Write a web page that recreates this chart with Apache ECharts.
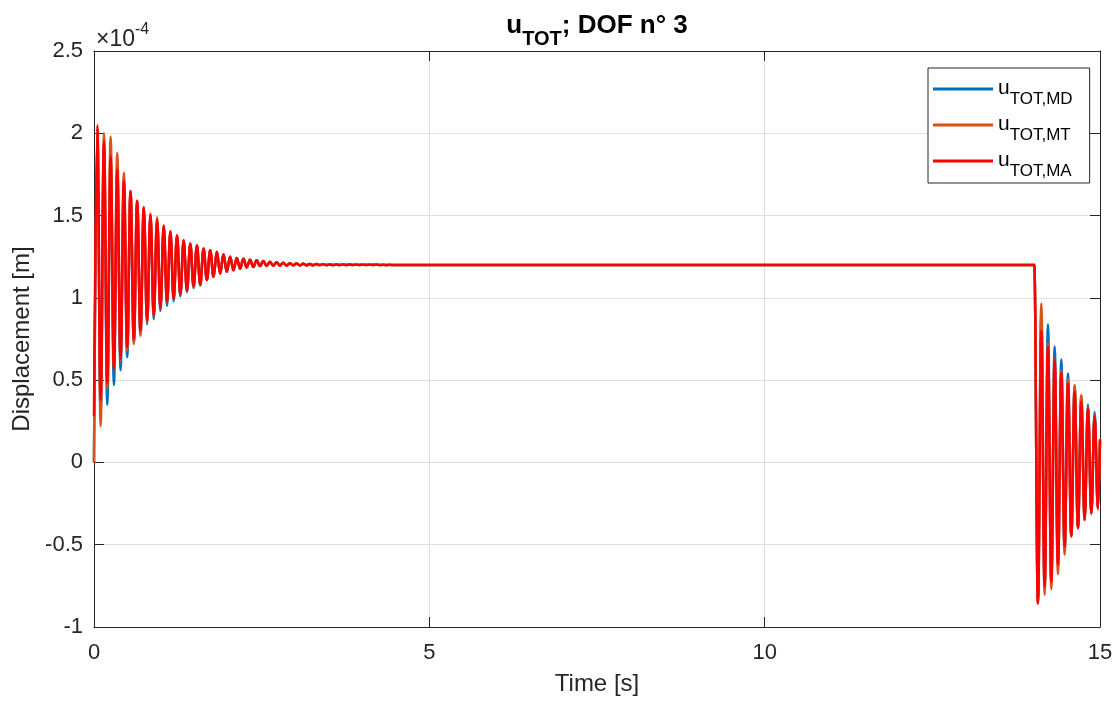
<!DOCTYPE html>
<html><head><meta charset="utf-8">
<script src="https://cdn.jsdelivr.net/npm/echarts@6/dist/echarts.min.js"></script>
<style>html,body{margin:0;padding:0;background:#fff}#c{width:1120px;height:703px}</style>
</head><body><div id="c"></div>
<script>
// All displacement values are in units of 1e-4 m (axis shows x10^-4)
const seriesNames = ['MD', 'MT', 'MA'];
const seriesColors = ['#0072BD', '#D95319', '#FF0000'];

// Early free-vibration extrema (alternating trough/peak), half-period spacing
const halfPeriodEarly = 0.0495;
const maEarly = [0.28, 2.05, 0.38, 1.95, 0.48, 1.86, 0.57, 1.78, 0.63, 1.71,
  0.70, 1.65, 0.75, 1.59, 0.80, 1.55, 0.86, 1.51, 0.895, 1.475,
  0.935, 1.44, 0.975, 1.405, 0.995, 1.38, 1.02, 1.35, 1.045, 1.33,
  1.07, 1.32, 1.08, 1.30, 1.108, 1.29, 1.128, 1.28, 1.148, 1.265,
  1.158, 1.25, 1.168, 1.242, 1.178, 1.237, 1.185, 1.232, 1.188, 1.228,
  1.193, 1.224, 1.194, 1.22, 1.195, 1.217, 1.195, 1.214, 1.196, 1.211,
  1.197, 1.209, 1.197, 1.207, 1.198, 1.206, 1.198, 1.205, 1.199, 1.204,
  1.199, 1.203, 1.199, 1.203, 1.2, 1.202, 1.2, 1.202, 1.2, 1.201,
  1.2, 1.201, 1.2, 1.201, 1.2, 1.201, 1.2, 1.2005, 1.2, 1.2005, 1.2];
const mtEarly = [0.0, 2.03, 0.22, 2.00, 0.45, 1.98, 0.57, 1.88, 0.62, 1.76,
  0.68, 1.65, 0.72, 1.59, 0.77, 1.55, 0.85, 1.51, 0.89, 1.49,
  0.935, 1.44, 0.975, 1.405, 0.995, 1.38, 1.02, 1.35, 1.045, 1.33,
  1.07, 1.32, 1.08, 1.30, 1.108, 1.29, 1.128, 1.28, 1.148, 1.265,
  1.158, 1.25, 1.168, 1.242, 1.178, 1.237, 1.185, 1.232, 1.188, 1.228,
  1.193, 1.224, 1.194, 1.22, 1.195, 1.217, 1.195, 1.214, 1.196, 1.211,
  1.197, 1.209, 1.197, 1.207, 1.198, 1.206, 1.198, 1.205, 1.199, 1.204,
  1.199, 1.203, 1.199, 1.203, 1.2, 1.202, 1.2, 1.202, 1.2, 1.201,
  1.2, 1.201, 1.2, 1.201, 1.2, 1.201, 1.2, 1.2005, 1.2, 1.2005, 1.2];
const mdEarly = [0.0, 2.00, 0.30, 1.93, 0.35, 1.85, 0.47, 1.76, 0.56, 1.70,
  0.64, 1.63, 0.73, 1.58, 0.78, 1.54, 0.84, 1.50, 0.87, 1.47,
  0.92, 1.43, 0.95, 1.40, 0.98, 1.375, 1.01, 1.345, 1.035, 1.325,
  1.06, 1.315, 1.075, 1.30, 1.108, 1.29, 1.128, 1.28, 1.148, 1.265,
  1.158, 1.25, 1.168, 1.242, 1.178, 1.237, 1.185, 1.232, 1.188, 1.228,
  1.193, 1.224, 1.194, 1.22, 1.195, 1.217, 1.195, 1.214, 1.196, 1.211,
  1.197, 1.209, 1.197, 1.207, 1.198, 1.206, 1.198, 1.205, 1.199, 1.204,
  1.199, 1.203, 1.199, 1.203, 1.2, 1.202, 1.2, 1.202, 1.2, 1.201,
  1.2, 1.201, 1.2, 1.201, 1.2, 1.201, 1.2, 1.2005, 1.2, 1.2005, 1.2];

// Static plateau
const plateauValue = 1.2;
const plateauEnd = 14.02;

// Late vibration after load removal (alternating trough/peak)
const lateStart = 14.075;
const halfPeriodLate = 0.0497;
const maLate = [-0.857, 0.80, -0.755, 0.705, -0.725, 0.625, -0.62, 0.545, -0.51, 0.48,
  -0.447, 0.43, -0.397, 0.37, -0.347, 0.33, -0.31, 0.28, -0.28];
const mtLate = [-0.857, 0.965, -0.805, 0.725, -0.77, 0.63, -0.68, 0.56, -0.56, 0.505,
  -0.45, 0.47, -0.40, 0.41, -0.35, 0.335, -0.31, 0.29, -0.285];
const mdLate = [-0.845, 0.90, -0.76, 0.84, -0.73, 0.705, -0.64, 0.625, -0.53, 0.54,
  -0.45, 0.46, -0.40, 0.40, -0.35, 0.352, -0.31, 0.306, -0.28];
const endTime = 15;
const endValues = [0.13, 0.14, 0.14]; // MD, MT, MA at t = 15 s

const xMin = 0, xMax = 15, xInterval = 5;
const yMin = -1, yMax = 2.5, yInterval = 0.5;

function buildSeries(early, late, endV) {
  const pts = [];
  early.forEach((v, i) => pts.push([i * halfPeriodEarly, v]));
  pts.push([plateauEnd, plateauValue]);
  late.forEach((v, j) => pts.push([lateStart + j * halfPeriodLate, v]));
  pts.push([endTime, endV]);
  return pts;
}
const allData = [
  buildSeries(mdEarly, mdLate, endValues[0]),
  buildSeries(mtEarly, mtLate, endValues[1]),
  buildSeries(maEarly, maLate, endValues[2])
];

const FONT = "'Liberation Sans', Arial, Helvetica, sans-serif";
const AX = '#262626';
const GRID = '#dfdfdf';

const chart = echarts.init(document.getElementById('c'), null, {renderer: 'canvas'});
chart.setOption({
  animation: false,
  backgroundColor: '#ffffff',
  textStyle: {fontFamily: FONT},
  grid: {left: 94, right: 20, top: 51, bottom: 76, containLabel: false},
  legend: {
    data: seriesNames,
    orient: 'vertical',
    left: 928,
    top: 68,
    padding: [10, 17, 3, 5],
    icon: 'rect',
    itemWidth: 60,
    itemHeight: 3,
    itemGap: 6,
    backgroundColor: '#ffffff',
    borderColor: AX,
    borderWidth: 1,
    formatter: name => '{u|u}{s|TOT,' + name + '}',
    textStyle: {
      rich: {
        u: {fontFamily: FONT, fontSize: 21, color: '#000', lineHeight: 22, verticalAlign: 'top'},
        s: {fontFamily: FONT, fontSize: 17, color: '#000', lineHeight: 18, padding: [13, 0, 0, 0], verticalAlign: 'top'}
      }
    }
  },
  xAxis: [{
    type: 'value', min: xMin, max: xMax, interval: xInterval,
    name: 'Time [s]', nameLocation: 'middle', nameGap: 45,
    nameTextStyle: {fontFamily: FONT, fontSize: 24, color: AX},
    axisLine: {show: true, onZero: false, lineStyle: {color: AX, width: 1}},
    axisTick: {show: true, inside: true, length: 10, lineStyle: {color: AX}},
    axisLabel: {fontFamily: FONT, fontSize: 22, color: AX, margin: 15},
    splitLine: {show: true, lineStyle: {color: GRID, width: 1}}
  }, {
    type: 'value', min: xMin, max: xMax, interval: xInterval, position: 'top',
    axisLine: {show: true, onZero: false, lineStyle: {color: AX, width: 1}},
    axisTick: {show: true, inside: true, length: 10, lineStyle: {color: AX}},
    axisLabel: {show: false}, splitLine: {show: false}
  }],
  yAxis: [{
    type: 'value', min: yMin, max: yMax, interval: yInterval,
    name: 'Displacement [m]', nameLocation: 'middle', nameGap: 60,
    nameTextStyle: {fontFamily: FONT, fontSize: 24, color: AX},
    axisLine: {show: true, onZero: false, lineStyle: {color: AX, width: 1}},
    axisTick: {show: true, inside: true, length: 10, lineStyle: {color: AX}},
    axisLabel: {fontFamily: FONT, fontSize: 22, color: AX, margin: 11},
    splitLine: {show: true, lineStyle: {color: GRID, width: 1}}
  }, {
    type: 'value', min: yMin, max: yMax, interval: yInterval, position: 'right',
    axisLine: {show: true, onZero: false, lineStyle: {color: AX, width: 1}},
    axisTick: {show: true, inside: true, length: 10, lineStyle: {color: AX}},
    axisLabel: {show: false}, splitLine: {show: false}
  }],
  series: seriesNames.map((n, k) => ({
    name: n,
    type: 'line',
    xAxisIndex: 0, yAxisIndex: 0,
    data: allData[k],
    symbol: 'none',
    smooth: 0.4,
    smoothMonotone: 'x',
    color: seriesColors[k],
    lineStyle: {width: 2.5, color: seriesColors[k]},
    z: 2 + k
  })),
  graphic: [{
    type: 'text',
    x: 597, y: 13,
    style: {
      text: '{u|u}{s|TOT}{u|; DOF n° 3}',
      align: 'center',
      verticalAlign: 'top',
      rich: {
        u: {fontFamily: FONT, fontSize: 26, fontWeight: 'bold', fill: '#000', lineHeight: 30, verticalAlign: 'top'},
        s: {fontFamily: FONT, fontSize: 20, fontWeight: 'bold', fill: '#000', lineHeight: 22, padding: [16, 0, 0, 0], verticalAlign: 'top'}
      }
    }
  }, {
    type: 'text',
    x: 96, y: 22,
    style: {
      text: '{a|\u00d710}{b|-4}',
      verticalAlign: 'top',
      rich: {
        a: {fontFamily: FONT, fontSize: 23, fill: AX, lineHeight: 22, padding: [6, 0, 0, 0], verticalAlign: 'top'},
        b: {fontFamily: FONT, fontSize: 16, fill: AX, lineHeight: 16, verticalAlign: 'top'}
      }
    }
  }]
});
</script></body></html>
